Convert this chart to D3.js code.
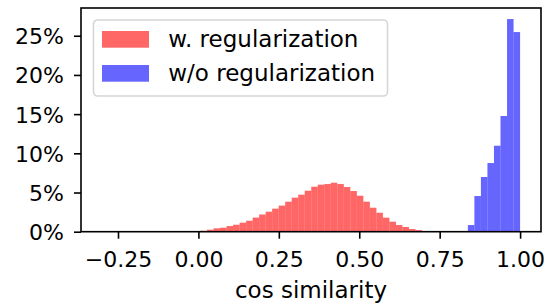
<!DOCTYPE html>
<html>
<head>
<meta charset="utf-8">
<script src="https://cdn.jsdelivr.net/npm/d3@7"></script>
<style>
  body { margin: 0; background: #fff; }
  text { font-family: "DejaVu Sans", sans-serif; fill: #000; }
</style>
</head>
<body>
<div id="chart"></div>
<script>
// histogram heights in percent, one per bin
var redStart = -0.0137, redWidth = 0.02025;
var redValues = [0.08, 0.12, 0.26, 0.43, 0.51, 0.72, 0.89, 1.15, 1.40, 1.80,
  2.20, 2.55, 2.94, 3.33, 3.83, 4.34, 4.72, 5.23, 5.74, 6.00,
  6.08, 6.25, 6.08, 5.70, 5.19, 4.59, 3.83, 3.06, 2.42, 1.79,
  1.28, 0.85, 0.60, 0.34, 0.21, 0.09, 0.09];
var blueStart = 0.8376, blueWidth = 0.0203;
var blueValues = [0.85, 4.55, 6.98, 8.76, 10.97, 14.76, 27.13, 25.47];
var xTicks = [-0.25, 0, 0.25, 0.5, 0.75, 1.0];
var yTicks = [0, 5, 10, 15, 20, 25];
var seriesNames = ["w. regularization", "w/o regularization"];
var seriesColors = ["#ff0000", "#0000ff"];

var margin = {top: 8, left: 81},
    width = 541 - 81,
    height = 231.7 - 8;

var svg = d3.select("#chart")
  .append("svg")
    .attr("width", 553)
    .attr("height", 303)
  .append("g")
    .attr("transform", "translate(" + margin.left + "," + margin.top + ")");

var x = d3.scaleLinear()
  .domain([-0.365, 1.065])
  .range([0, width]);
var y = d3.scaleLinear()
  .domain([0, 28.54])
  .range([height, 0]);

function bins(start, w, values) {
  return values.map(function(v, i) { return {x0: start + i * w, x1: start + (i + 1) * w, v: v}; });
}

function drawBars(data, color) {
  svg.append("g").selectAll("rect")
    .data(data)
    .enter()
    .append("rect")
      .attr("x", function(d) { return x(d.x0); })
      .attr("y", function(d) { return y(d.v); })
      .attr("width", function(d) { return x(d.x1) - x(d.x0); })
      .attr("height", function(d) { return y(0) - y(d.v); })
      .style("fill", color)
      .style("fill-opacity", 0.6);
}

drawBars(bins(redStart, redWidth, redValues), seriesColors[0]);
drawBars(bins(blueStart, blueWidth, blueValues), seriesColors[1]);

// axes
var xAxis = svg.append("g")
  .attr("transform", "translate(0," + height + ")")
  .call(d3.axisBottom(x).tickValues(xTicks).tickFormat(d3.format(".2f")).tickSize(7).tickPadding(4));
var yAxis = svg.append("g")
  .call(d3.axisLeft(y).tickValues(yTicks).tickFormat(function(d) { return d + "%"; }).tickSize(7).tickPadding(10));

[xAxis, yAxis].forEach(function(a) {
  a.select(".domain").remove();
  a.selectAll("line").attr("stroke", "#000").attr("stroke-width", 1.6);
  a.selectAll("text").style("font-size", "22px").attr("fill", "#000");
});
xAxis.selectAll("text").attr("dy", null).attr("y", 35);
yAxis.selectAll("text").attr("dy", "0.36em");

// frame
svg.append("rect")
  .attr("width", width)
  .attr("height", height)
  .attr("fill", "none")
  .attr("stroke", "#000")
  .attr("stroke-width", 1.6);

svg.append("text")
  .attr("x", width / 2)
  .attr("y", 298 - margin.top)
  .attr("text-anchor", "middle")
  .style("font-size", "23px")
  .text("cos similarity");

// legend
var legend = svg.append("g").attr("transform", "translate(" + (93.5 - margin.left) + "," + (20 - margin.top) + ")");
legend.append("rect")
  .attr("width", 294)
  .attr("height", 76)
  .attr("rx", 4)
  .attr("fill", "#fff")
  .attr("fill-opacity", 0.8)
  .attr("stroke", "#d6d6d6")
  .attr("stroke-width", 1.6);
seriesNames.forEach(function(name, i) {
  legend.append("rect")
    .attr("x", 8.5)
    .attr("y", 11 + i * 34)
    .attr("width", 47)
    .attr("height", 16.7)
    .style("fill", seriesColors[i])
    .style("fill-opacity", 0.6);
  legend.append("text")
    .attr("x", 74.8)
    .attr("y", 26.7 + i * 34.5)
    .style("font-size", "23px")
    .text(name);
});
</script>
</body>
</html>
